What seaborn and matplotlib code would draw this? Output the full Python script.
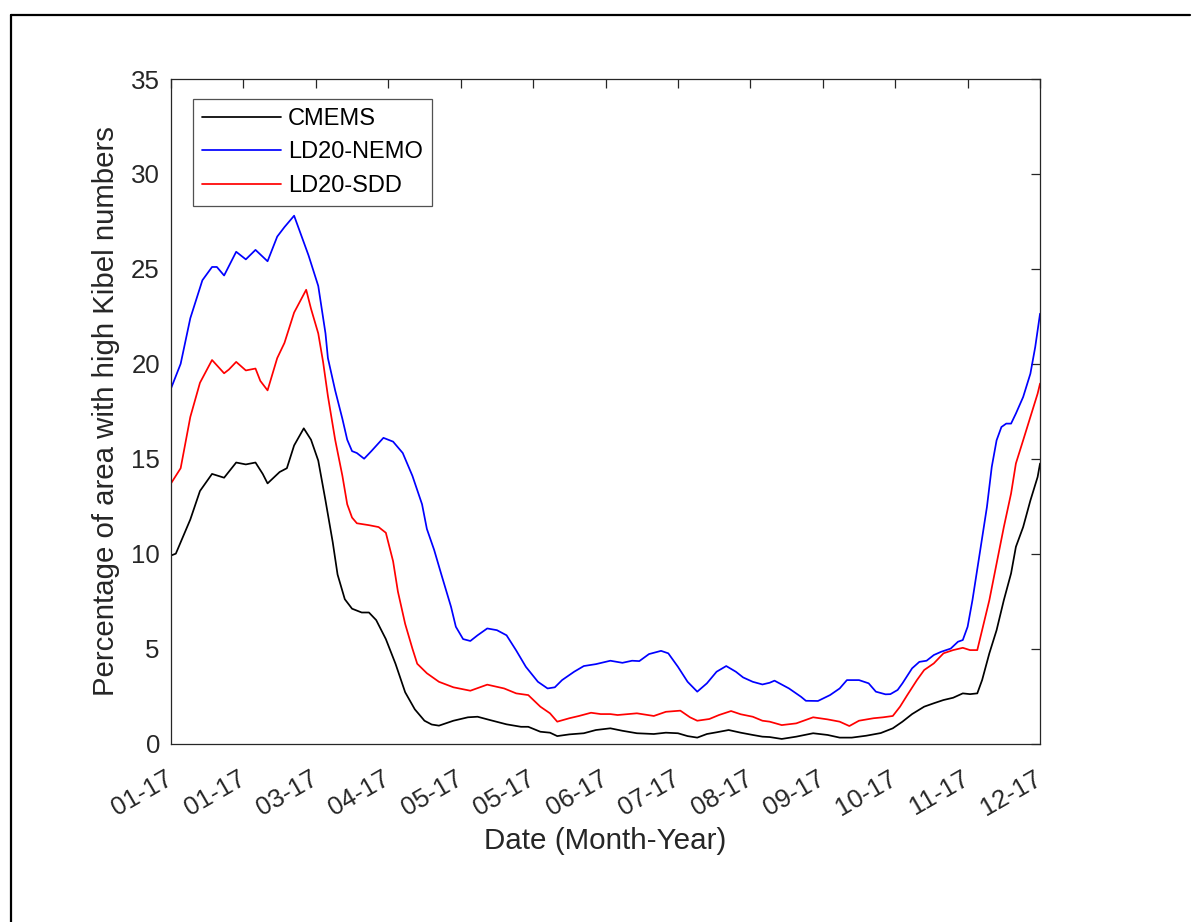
import matplotlib
matplotlib.use("Agg")
import matplotlib.pyplot as plt
import matplotlib.transforms as mtransforms
from matplotlib.lines import Line2D
import numpy as np
import pandas as pd
import seaborn as sns

# Days since 1 January 2017 and percentage of area with high Kibel numbers
cmems_day = [0, 2, 8, 12, 17, 22, 27, 31, 35, 38, 40, 45, 48, 51, 55, 58, 61, 64, 67, 69,
             72, 75, 79, 82, 85, 89, 93, 97, 101, 105, 108, 111, 117, 123, 127, 132, 139, 145,
             148, 153, 157, 160, 165, 171, 176, 182, 187, 193, 200, 205, 210, 214, 218, 222,
             226, 231, 236, 241, 245, 248, 253, 259, 266, 272, 277, 282, 288, 294, 299, 303,
             307, 312, 316, 320, 324, 328, 331, 334, 336, 339, 342, 345, 348, 350, 353, 356,
             359, 360]
cmems_val = [9.9, 10.0, 11.8, 13.3, 14.2, 14.0, 14.8, 14.7, 14.8, 14.2, 13.7, 14.3, 14.5, 15.7,
             16.6, 16.0, 14.9, 12.8, 10.6, 8.9, 7.6, 7.1, 6.9, 6.9, 6.5, 5.5, 4.2, 2.7, 1.8, 1.2,
             1.0, 0.94, 1.2, 1.38, 1.41, 1.24, 1.01, 0.88, 0.88, 0.62, 0.57, 0.39, 0.48, 0.54,
             0.71, 0.8, 0.67, 0.54, 0.5, 0.57, 0.54, 0.39, 0.31, 0.5, 0.59, 0.71, 0.57, 0.45,
             0.36, 0.34, 0.24, 0.36, 0.54, 0.45, 0.31, 0.31, 0.41, 0.55, 0.8, 1.15, 1.55, 1.94,
             2.12, 2.29, 2.41, 2.64, 2.6, 2.64, 3.34, 4.75, 5.97, 7.55, 8.96, 10.36, 11.4, 12.8,
             14.04, 14.75]

nemo_day = [0, 4, 8, 13, 17, 19, 22, 27, 31, 35, 40, 44, 47, 51, 57, 61, 64, 65, 68, 71, 73,
            75, 77, 80, 83, 88, 92, 96, 100, 104, 106, 109, 112, 116, 118, 121, 124, 127, 131,
            135, 139, 143, 147, 152, 156, 159, 162, 167, 171, 176, 182, 187, 191, 194, 198,
            203, 206, 210, 214, 218, 222, 226, 230, 234, 237, 241, 245, 248, 250, 256, 261,
            263, 268, 273, 277, 280, 285, 289, 292, 296, 298, 301, 303, 307, 310, 313, 316,
            319, 323, 326, 328, 330, 332, 335, 338, 340, 342, 344, 346, 348, 350, 353, 356,
            358, 360]
nemo_val = [18.7, 20.0, 22.4, 24.4, 25.1, 25.1, 24.65, 25.9, 25.5, 26.0, 25.4, 26.7, 27.2, 27.8,
            25.7, 24.1, 21.6, 20.3, 18.6, 17.1, 16.0, 15.4, 15.3, 15.0, 15.4, 16.1, 15.9, 15.3,
            14.1, 12.6, 11.3, 10.2, 8.9, 7.2, 6.15, 5.5, 5.4, 5.7, 6.06, 5.97, 5.7, 4.9, 4.04,
            3.25, 2.9, 2.96, 3.34, 3.78, 4.08, 4.18, 4.36, 4.25, 4.36, 4.34, 4.71, 4.88, 4.75,
            4.04, 3.25, 2.73, 3.17, 3.78, 4.08, 3.78, 3.48, 3.25, 3.11, 3.2, 3.31, 2.9, 2.46,
            2.25, 2.24, 2.55, 2.9, 3.34, 3.34, 3.17, 2.73, 2.59, 2.6, 2.82, 3.17, 3.96, 4.3,
            4.36, 4.66, 4.83, 5.0, 5.36, 5.45, 6.15, 7.55, 10.0, 12.46, 14.57, 15.97, 16.67,
            16.85, 16.85, 17.38, 18.25, 19.48, 20.88, 22.64]

sdd_day = [0, 4, 8, 12, 17, 22, 24, 27, 31, 35, 37, 40, 44, 47, 51, 56, 58, 61, 63, 65, 68,
           71, 73, 75, 77, 82, 86, 89, 92, 94, 97, 100, 102, 106, 111, 117, 124, 131, 138, 143,
           148, 153, 157, 160, 165, 169, 174, 178, 182, 185, 193, 200, 205, 211, 215, 218, 223,
           227, 232, 236, 241, 245, 248, 253, 259, 266, 272, 277, 281, 285, 291, 295, 299, 302,
           305, 309, 312, 316, 320, 324, 328, 331, 334, 336, 339, 342, 345, 348, 350, 353, 356,
           359, 360]
sdd_val = [13.7, 14.5, 17.2, 19.0, 20.2, 19.5, 19.7, 20.1, 19.65, 19.75, 19.1, 18.6, 20.3, 21.1,
           22.7, 23.9, 22.9, 21.6, 20.1, 18.3, 16.0, 14.1, 12.6, 11.9, 11.6, 11.5, 11.4, 11.1,
           9.6, 8.0, 6.3, 5.0, 4.2, 3.7, 3.25, 2.96, 2.78, 3.1, 2.9, 2.64, 2.55, 1.94, 1.59,
           1.15, 1.33, 1.45, 1.62, 1.55, 1.55, 1.5, 1.59, 1.45, 1.67, 1.73, 1.38, 1.2, 1.29,
           1.5, 1.71, 1.54, 1.41, 1.2, 1.15, 0.97, 1.06, 1.38, 1.27, 1.15, 0.92, 1.2, 1.33,
           1.38, 1.45, 1.94, 2.55, 3.34, 3.87, 4.22, 4.75, 4.92, 5.04, 4.92, 4.92, 5.97, 7.55,
           9.48, 11.4, 13.17, 14.75, 15.97, 17.2, 18.43, 18.96]

series_names = ["CMEMS", "LD20-NEMO", "LD20-SDD"]
series_colors = ["#000000", "#0000ff", "#ff0000"]

tick_days = [0, 30, 60, 90, 120, 150, 180, 210, 240, 270, 300, 330, 360]
tick_labels = ["01-17", "01-17", "03-17", "04-17", "05-17", "05-17", "06-17",
               "07-17", "08-17", "09-17", "10-17", "11-17", "12-17"]
y_ticks = [0, 5, 10, 15, 20, 25, 30, 35]

df = pd.concat([
    pd.DataFrame({"day": cmems_day, "value": cmems_val, "series": series_names[0]}),
    pd.DataFrame({"day": nemo_day, "value": nemo_val, "series": series_names[1]}),
    pd.DataFrame({"day": sdd_day, "value": sdd_val, "series": series_names[2]}),
], ignore_index=True)

sns.set_style("white")
plt.rcParams["font.family"] = ["Liberation Sans", "DejaVu Sans"]
ink = "#262626"

fig = plt.figure(figsize=(12, 9.22), dpi=100)
ax = fig.add_axes([0.1425, 0.1936, 0.7242, 0.7207])

sns.lineplot(data=df, x="day", y="value", hue="series", hue_order=series_names,
             palette=dict(zip(series_names, series_colors)), estimator=None, sort=False,
             linewidth=1.25, ax=ax, legend=False)

ax.set_xlim(0, 360)
ax.set_ylim(0, 35)
ax.set_xticks(tick_days)
ax.set_xticklabels(tick_labels, rotation=30, ha="right", va="center",
                   rotation_mode="anchor")
shift = mtransforms.ScaledTranslation(6 / 100, 0, fig.dpi_scale_trans)
for lbl in ax.get_xticklabels():
    lbl.set_transform(lbl.get_transform() + shift)
ax.set_yticks(y_ticks)
ax.tick_params(axis="both", direction="in", length=6.5, width=0.9, color=ink,
               labelcolor=ink, labelsize=18.6, top=True, right=True)
ax.tick_params(axis="x", pad=24)
ax.tick_params(axis="y", pad=8)
for sp in ax.spines.values():
    sp.set_visible(True)
    sp.set_color(ink)
    sp.set_linewidth(0.9)

ax.set_xlabel("Date (Month-Year)", fontsize=21.3, color=ink, labelpad=5)
ax.set_ylabel("Percentage of area with high Kibel numbers", fontsize=21.2, color=ink,
              labelpad=8)

handles = [Line2D([0], [0], color=c, lw=1.25) for c in series_colors]
leg = ax.legend(handles, series_names, loc="upper left", bbox_to_anchor=(0.0253, 0.970),
                borderaxespad=0, fontsize=17, handlelength=3.35, handletextpad=0.3,
                labelspacing=0.49, borderpad=0.38, frameon=True, fancybox=False)
leg.get_frame().set_edgecolor(ink)
leg.get_frame().set_linewidth(0.9)
for t in leg.get_texts():
    t.set_color("#000000")

# Outer frame of the figure (top and left edges)
fig.add_artist(Line2D([0.0092, 0.9917], [1 - 15 / 922, 1 - 15 / 922], color="black",
                      lw=1.6, transform=fig.transFigure))
fig.add_artist(Line2D([0.0092, 0.0092], [0, 1 - 15 / 922], color="black",
                      lw=1.6, transform=fig.transFigure))

fig.savefig("out.png", dpi=100)
